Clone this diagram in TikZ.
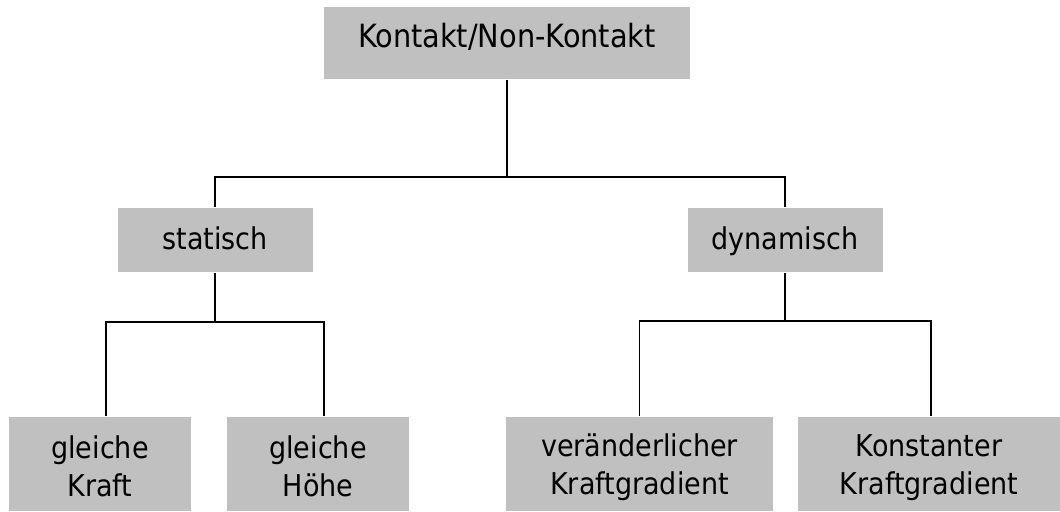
\documentclass[tikz,border=0pt]{standalone}
\usepackage{fontspec}
\setmainfont{DejaVu Sans Condensed}
\definecolor{boxgray}{HTML}{C0C0C0}
\newcommand{\bstrut}{\rule[-2pt]{0pt}{24pt}}
\tikzset{
  box/.style={fill=boxgray,inner sep=0pt,align=center,
    font=\fontsize{22.5}{29}\selectfont},
  onebox/.style={box,text height=17pt,text depth=3.5pt},
}
\begin{document}
\begin{tikzpicture}[x=0.75pt,y=-0.75pt,line width=1.4pt]
                \useasboundingbox (0,0) rectangle (1060,511);
                \node[onebox,font=\fontsize{24}{29}\selectfont,text height=14pt,text depth=8pt,minimum width=274.5pt,minimum height=54pt] (top) at (507,43) {Kontakt/Non-Kontakt};
                \node[onebox,minimum width=146.25pt,minimum height=48pt] (stat) at (215,240) {statisch};
                \node[onebox,minimum width=146.25pt,minimum height=48pt] (dyn) at (785,240) {dynamisch};
                \node[box,minimum width=136.5pt,minimum height=70.5pt] (kraft) at (100,464) {gleiche\bstrut\\Kraft\bstrut};
                \node[box,minimum width=136.5pt,minimum height=70.5pt] (hoehe) at (318,464) {gleiche\bstrut\\Höhe\bstrut};
                \node[box,minimum width=200.25pt,minimum height=70.5pt] (var) at (639.5,464) {veränderlicher\bstrut\\Kraftgradient\bstrut};
                \node[box,minimum width=196.5pt,minimum height=70.5pt] (konst) at (929,464) {Konstanter\bstrut\\Kraftgradient\bstrut};
                \draw (top.south) -- ++(0,97) coordinate (j1);
                \draw (stat.north) |- (j1) -| (dyn.north);
                \draw (stat.south) -- ++(0,49) coordinate (j2);
                \draw ([xshift=4.5pt]kraft.north) |- (j2) -| ([xshift=4.5pt]hoehe.north);
                \draw (dyn.south) -- ++(0,48) coordinate (j3);
                \draw (var.north) |- (j3) -| ([xshift=1.5pt]konst.north);
            \end{tikzpicture}
\end{document}
